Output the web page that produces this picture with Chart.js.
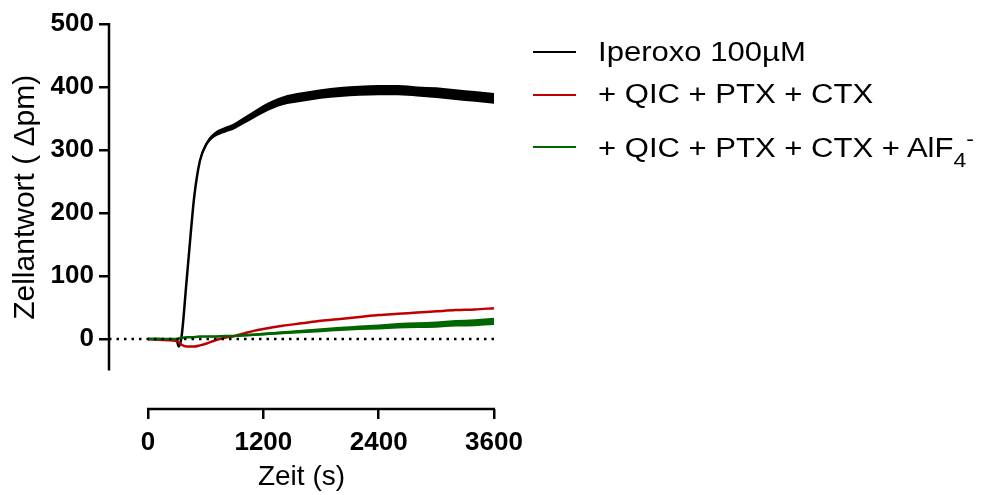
<!DOCTYPE html>
<html>
<head>
<meta charset="utf-8">
<script src="https://cdn.jsdelivr.net/npm/chart.js@4.4.1/dist/chart.umd.min.js"></script>
<style>
  body { margin: 0; background: #fff; }
  #wrap { position: relative; width: 986px; height: 495px; }
  .swatch { position: absolute; left: 533px; width: 43px; height: 2px; }
  .label { position: absolute; left: 598px; font: 27px 'Liberation Sans', Arial, sans-serif; line-height: 27px;
           white-space: nowrap; transform: scaleX(1.15); transform-origin: left; color: #000; }
  .label .sub { font-size: 20px; position: relative; top: 10px; }
  .label .sup { font-size: 20px; position: relative; top: -11px; }
</style>
</head>
<body>
<div id="wrap">
  <canvas id="myChart" width="986" height="495"></canvas>
</div>
<script>
// time points (s)
var times = [0, 120, 240, 300, 320, 350, 400, 440, 480, 540, 610, 700, 800, 900, 1000, 1100, 1200,
             1400, 1600, 1800, 2000, 2200, 2400, 2600, 2800, 3000, 3200, 3400, 3600];

// Iperoxo 100µM, mean and error
var iperoxo = [0, 0, -1, -3, -12, 5, 90, 160, 225, 283, 310, 325, 332, 338, 347, 356, 365,
               378, 384, 389, 392, 394, 395, 395, 393, 391, 388, 385, 382];
var iperoxoErr = [0.5, 0.5, 0.5, 0.5, 0.5, 0.5, 1, 1.5, 2, 3, 3.5, 4, 4.5, 5, 5.5, 6, 6.5,
                  7, 7.5, 7.5, 8, 8, 8, 8, 8, 8.5, 8.5, 8.5, 8.5];

// + QIC + PTX + CTX
var qicPtxCtx = [0, -1, -2, -3, -5, -9, -12, -12, -12, -10, -7, -2, 2, 5, 9, 13, 16,
                 21, 25, 29, 32, 35, 38, 40, 42, 44, 46, 47, 49];

// + QIC + PTX + CTX + AlF4-
var withAlf = [0, 0, 0, 0, 1, 2, 3, 3, 3, 4, 4, 4, 5, 5, 6, 7, 8,
               10, 12, 14, 16, 18, 19, 21, 22, 23, 25, 26, 28];
var withAlfErr = [0.3, 0.3, 0.3, 0.3, 0.5, 0.5, 0.6, 0.7, 0.8, 0.9, 1, 1.2, 1.4, 1.6, 1.8, 2, 2.2,
                  2.5, 2.8, 3.1, 3.4, 3.7, 4, 4.3, 4.6, 4.9, 5.2, 5.5, 5.8];

var xTickValues = [0, 1200, 2400, 3600];
var yTickValues = [0, 100, 200, 300, 400, 500];
var yAxisEnd = -50;

var seriesNames = ['Iperoxo 100µM', '+ QIC + PTX + CTX', '+ QIC + PTX + CTX + AlF<span class="sub">4</span><span class="sup">-</span>'];
var seriesColors = ['#000000', '#c00000', '#006600'];
var yTitle = 'Zellantwort ( Δpm)';

// axis ranges so that the x axis sits below the y axis end
var xMin = -406, xMax = 3600;
var yMin = -111, yMax = 500;

function pts(vals, err, sign) {
  return times.map(function (t, i) {
    return { x: t, y: err ? vals[i] + sign * err[i] : vals[i] };
  });
}

function band(vals, err, color) {
  return [{
    data: pts(vals, err, 1), borderWidth: 0, pointRadius: 0, fill: '+1',
    backgroundColor: color, cubicInterpolationMode: 'monotone'
  }, {
    data: pts(vals, err, -1), borderWidth: 0, pointRadius: 0, fill: false,
    cubicInterpolationMode: 'monotone'
  }];
}

function line(vals, color) {
  return {
    data: pts(vals), borderColor: color, borderWidth: 2.5, pointRadius: 0,
    fill: false, cubicInterpolationMode: 'monotone'
  };
}

var datasets = [{
  // dotted zero line
  data: [{ x: xMin, y: 0 }, { x: xMax, y: 0 }],
  borderColor: '#000', borderWidth: 2.5, borderDash: [2.5, 5], pointRadius: 0, fill: false
}];
datasets = datasets.concat(band(withAlf, withAlfErr, seriesColors[2]));
datasets.push(line(withAlf, seriesColors[2]));
datasets.push(line(qicPtxCtx, seriesColors[1]));
datasets = datasets.concat(band(iperoxo, iperoxoErr, seriesColors[0]));
datasets.push(line(iperoxo, seriesColors[0]));

var fontFamily = "'Liberation Sans', Arial, sans-serif";

// axis lines drawn only over their own ranges, plus the y title
var axisLines = {
  id: 'axisLines',
  afterDraw: function (chart) {
    var ctx = chart.ctx, x = chart.scales.x, y = chart.scales.y;
    ctx.save();
    ctx.strokeStyle = '#000';
    ctx.lineWidth = 2.5;
    ctx.beginPath();
    ctx.moveTo(x.left, y.getPixelForValue(yMax) - 1);
    ctx.lineTo(x.left, y.getPixelForValue(yAxisEnd));
    ctx.moveTo(x.getPixelForValue(xTickValues[0]) - 1, y.bottom);
    ctx.lineTo(x.getPixelForValue(xTickValues[xTickValues.length - 1]) + 1, y.bottom);
    ctx.stroke();

    // y title centred on the drawn y axis
    var cy = (y.getPixelForValue(yMax) + y.getPixelForValue(yAxisEnd)) / 2;
    ctx.translate(26, cy);
    ctx.rotate(-Math.PI / 2);
    ctx.font = '30px ' + fontFamily;
    ctx.fillStyle = '#000';
    ctx.textAlign = 'center';
    ctx.textBaseline = 'middle';
    ctx.fillText(yTitle, 0, 0);
    ctx.restore();
  }
};

var tickFont = { family: fontFamily, size: 26, weight: 'bold' };
function plainLabel(v) { return String(v); }

var ctx = document.getElementById('myChart').getContext('2d');
var myChart = new Chart(ctx, {
  type: 'line',
  data: { datasets: datasets },
  options: {
    responsive: false,
    animation: false,
    layout: { padding: { left: 0, right: 492, top: 24, bottom: 0 } },
    plugins: { legend: { display: false }, tooltip: { enabled: false } },
    scales: {
      x: {
        type: 'linear', min: xMin, max: xMax,
        afterBuildTicks: function (s) { s.ticks = xTickValues.map(function (v) { return { value: v }; }); },
        afterFit: function (s) { s.height = 86; },
        grid: { drawOnChartArea: false, drawTicks: true, tickLength: 10, color: '#000', lineWidth: 2.5 },
        border: { display: false },
        ticks: { font: tickFont, color: '#000', padding: 8, maxRotation: 0, callback: plainLabel },
        title: { display: true, text: 'Zeit (s)', color: '#000',
                 font: { family: fontFamily, size: 28 }, padding: { top: 0, bottom: 1 } }
      },
      y: {
        type: 'linear', min: yMin, max: yMax,
        afterBuildTicks: function (s) { s.ticks = yTickValues.map(function (v) { return { value: v }; }); },
        afterFit: function (s) { s.width = 109; },
        grid: { drawOnChartArea: false, drawTicks: true, tickLength: 10, color: '#000', lineWidth: 2.5 },
        border: { display: false },
        ticks: { font: tickFont, color: '#000', padding: 5, callback: plainLabel }
      }
    }
  },
  plugins: [axisLines]
});

// legend on the right
var legendRows = [{ line: 51, text: 39 }, { line: 94, text: 81 }, { line: 146, text: 135 }];
var wrap = document.getElementById('wrap');
seriesNames.forEach(function (name, i) {
  var sw = document.createElement('div');
  sw.className = 'swatch';
  sw.style.top = legendRows[i].line + 'px';
  sw.style.background = seriesColors[i];
  wrap.appendChild(sw);
  var lb = document.createElement('div');
  lb.className = 'label';
  lb.style.top = legendRows[i].text + 'px';
  lb.innerHTML = name;
  wrap.appendChild(lb);
});
</script>
</body>
</html>
